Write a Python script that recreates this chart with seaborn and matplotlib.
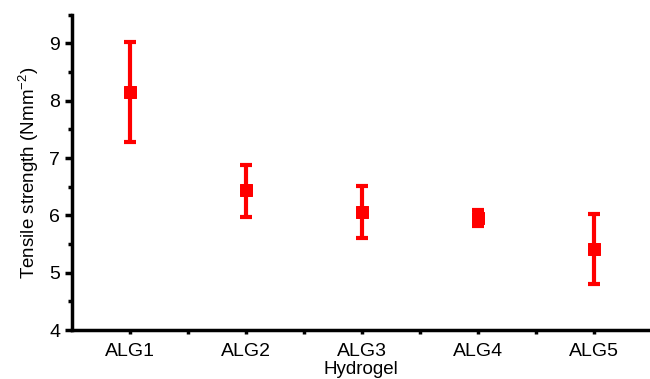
import matplotlib
matplotlib.use("Agg")
import matplotlib.pyplot as plt
import seaborn as sns
import numpy as np
import pandas as pd
from matplotlib.ticker import FixedLocator

categories = ["ALG1", "ALG2", "ALG3", "ALG4", "ALG5"]
means = [8.15, 6.45, 6.06, 5.95, 5.41]
err_upper = [9.03, 6.88, 6.51, 6.09, 6.02]
err_lower = [7.28, 5.97, 5.60, 5.81, 4.80]

df = pd.DataFrame({"Hydrogel": categories, "Tensile": means})

sns.set_theme(style="white")
plt.rcParams["font.family"] = ["Liberation Sans", "DejaVu Sans"]
plt.rcParams["mathtext.fontset"] = "custom"
plt.rcParams["mathtext.rm"] = "Liberation Sans"

fig = plt.figure(figsize=(6.5, 3.79), dpi=100)
ax = fig.add_axes([0.111, 0.129, 0.889, 0.832])

sns.scatterplot(data=df, x="Hydrogel", y="Tensile", marker="s", s=80,
                color="#ff0000", edgecolor="#ff0000", ax=ax, zorder=3)
pos = np.arange(len(categories))
yerr = [np.array(means) - np.array(err_lower), np.array(err_upper) - np.array(means)]
ax.errorbar(pos, means, yerr=yerr, fmt="none", ecolor="#ff0000",
            elinewidth=3, capsize=4, capthick=3, zorder=2)

ax.set_xlim(-0.5, 4.48)
ax.set_ylim(4, 9.5)
ax.yaxis.set_major_locator(FixedLocator([4, 5, 6, 7, 8, 9]))
ax.yaxis.set_minor_locator(FixedLocator([4.5, 5.5, 6.5, 7.5, 8.5, 9.5]))
ax.xaxis.set_minor_locator(FixedLocator([0.5, 1.5, 2.5, 3.5]))
ax.set_xticks(pos)
ax.set_xticklabels(categories)

for s in ["top", "right"]:
    ax.spines[s].set_visible(False)
for s in ["left", "bottom"]:
    ax.spines[s].set_linewidth(2.5)
    ax.spines[s].set_color("black")

ax.tick_params(axis="both", which="major", direction="out", length=5, width=2.5,
               labelsize=14, color="black", labelcolor="black", bottom=True, left=True)
ax.tick_params(axis="both", which="minor", direction="out", length=3, width=2.5,
               color="black", bottom=True, left=True)
ax.tick_params(axis="x", which="major", length=3, pad=6)

ax.set_xlabel("Hydrogel", fontsize=13.5, labelpad=1, color="black")
ax.set_ylabel("Tensile strength (Nmm$^{-2}$)", fontsize=13.5, labelpad=6, color="black")

fig.savefig("out.png", dpi=100)
